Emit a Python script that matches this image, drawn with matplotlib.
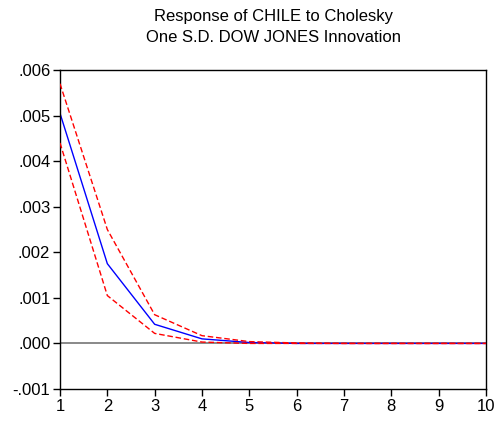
import matplotlib
matplotlib.use("Agg")
import matplotlib.pyplot as plt

periods = [1, 2, 3, 4, 5, 6, 7, 8, 9, 10]
response = [0.00505, 0.00175, 0.00042, 0.00010, 0.00002, 0.0, 0.0, 0.0, 0.0, 0.0]
upper = [0.0057, 0.0025, 0.00063, 0.00017, 0.00004, 0.00001, 0.0, 0.0, 0.0, 0.0]
lower = [0.0044, 0.00105, 0.00022, 0.00003, 0.0, 0.0, 0.0, 0.0, 0.0, 0.0]
yticks = [-0.001, 0.0, 0.001, 0.002, 0.003, 0.004, 0.005, 0.006]
ytick_labels = ["-.001", ".000", ".001", ".002", ".003", ".004", ".005", ".006"]
title_lines = ["Response of CHILE to Cholesky", "One S.D. DOW JONES Innovation"]

plt.rcParams['font.family'] = ['Liberation Sans', 'DejaVu Sans']
fig = plt.figure(figsize=(4.97, 4.23), dpi=100)
ax = fig.add_axes([60/497, 1-389/423, (486-60)/497, (389-70)/423])

ax.axhline(0, color='#808080', lw=1.3, zorder=1)
ax.plot(periods, upper, color='red', ls=(0, (4, 2)), lw=1, zorder=3)
ax.plot(periods, lower, color='red', ls=(0, (4, 2)), lw=1, zorder=3)
ax.plot(periods, response, color='blue', lw=1, zorder=2)

ax.set_xlim(1, 10)
ax.set_ylim(-0.001, 0.006)
ax.set_xticks(periods)
ax.set_xticklabels([str(p) for p in periods])
ax.set_yticks(yticks)
ax.set_yticklabels(ytick_labels)
ax.tick_params(direction='out', length=5, width=1, labelsize=12, pad=2)
for s in ax.spines.values():
    s.set_linewidth(1)

cx = 273 / 497
fig.text(cx, 1 - 17/423, title_lines[0], ha='center', va='center', fontsize=12)
fig.text(cx, 1 - 37/423, title_lines[1], ha='center', va='center', fontsize=12)

fig.savefig("out.png", dpi=100)
